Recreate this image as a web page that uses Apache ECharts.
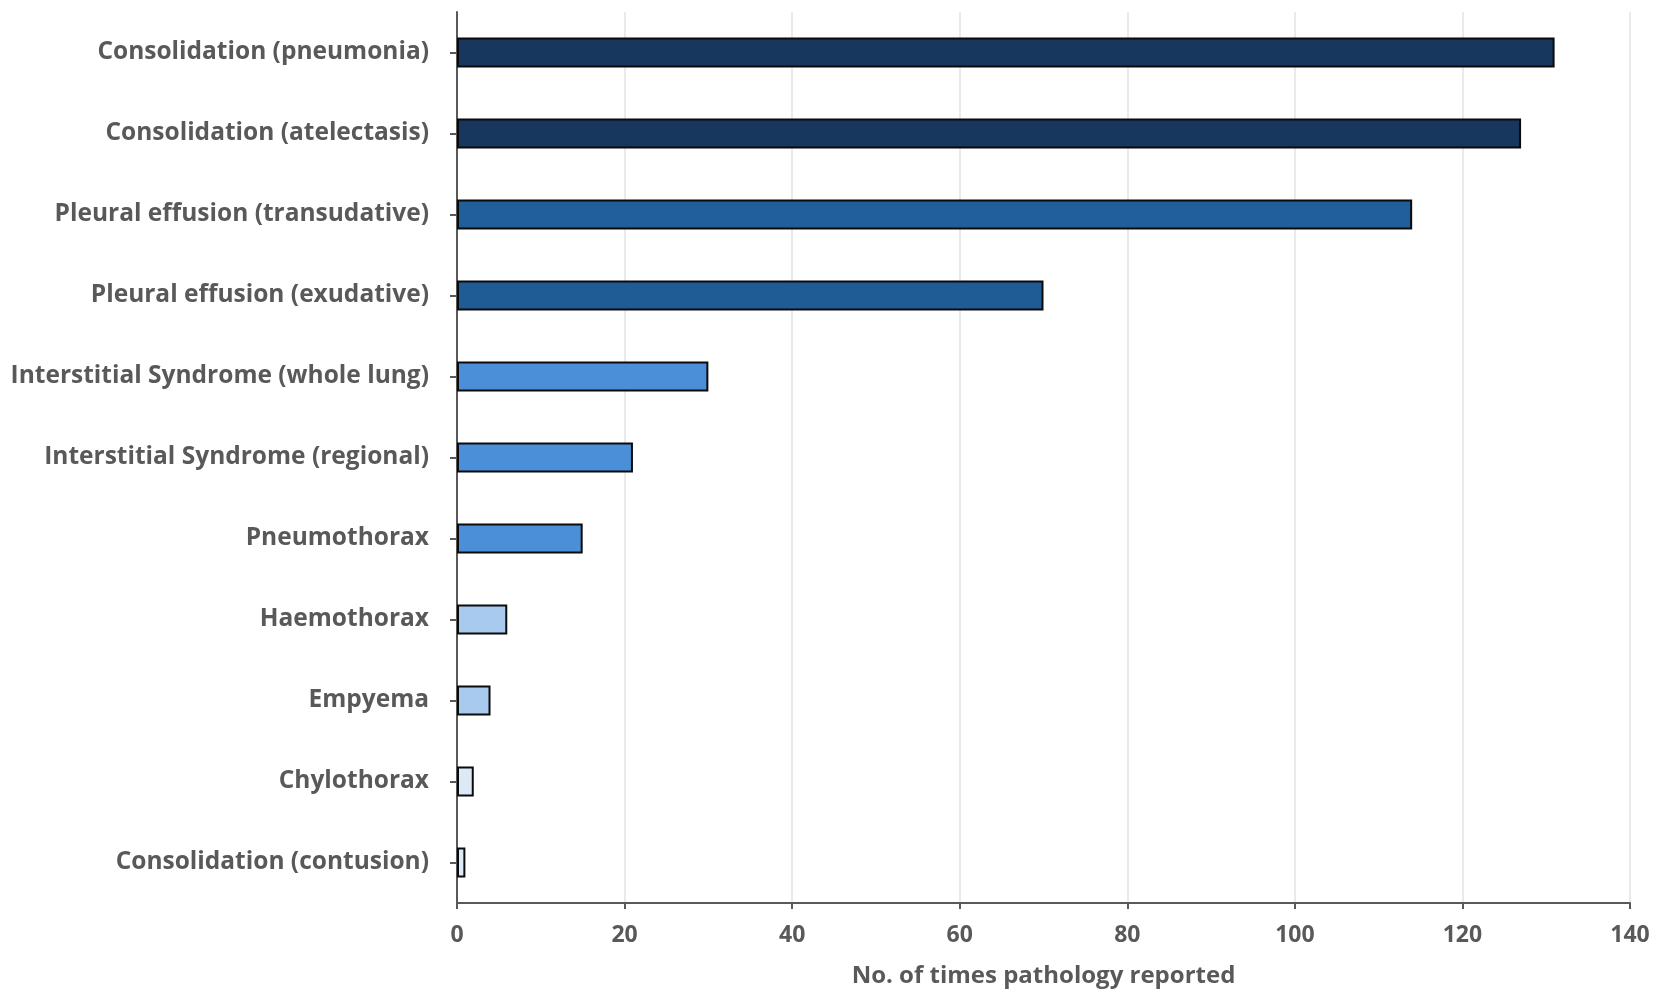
<!DOCTYPE html>
<html>
<head>
<meta charset="utf-8">
<script src="https://cdn.jsdelivr.net/npm/echarts@6/dist/echarts.min.js"></script>
<style>
  html, body { margin: 0; padding: 0; background: #ffffff; }
  #chart { width: 1659px; height: 1002px; }
</style>
</head>
<body>
<div id="chart"></div>
<script>
const categories = [
  "Consolidation (pneumonia)",
  "Consolidation (atelectasis)",
  "Pleural effusion (transudative)",
  "Pleural effusion (exudative)",
  "Interstitial Syndrome (whole lung)",
  "Interstitial Syndrome (regional)",
  "Pneumothorax",
  "Haemothorax",
  "Empyema",
  "Chylothorax",
  "Consolidation (contusion)"
];
const values = [131, 127, 114, 70, 30, 21, 15, 6, 4, 2, 1];
const barColors = [
  "#17375e", "#17375e", "#215f9a", "#1f5b95",
  "#4a8fd8", "#4a8fd8", "#4a8fd8",
  "#a7caee", "#a7caee",
  "#dceaf8", "#dceaf8"
];
const xTicks = [0, 20, 40, 60, 80, 100, 120, 140];
const xTitle = "No. of times pathology reported";

const chart = echarts.init(document.getElementById('chart'), null, { renderer: 'canvas' });
const fontFam = '"Open Sans", "Noto Sans", sans-serif';
chart.setOption({
  animation: false,
  backgroundColor: '#ffffff',
  grid: { left: 457, right: 29, top: 12, bottom: 99, containLabel: false },
  xAxis: {
    type: 'value',
    min: xTicks[0],
    max: xTicks[xTicks.length - 1],
    interval: 20,
    name: xTitle,
    nameLocation: 'middle',
    nameGap: 61,
    nameTextStyle: { color: '#595959', fontSize: 24, fontWeight: 'bold', fontFamily: fontFam },
    axisLine: { show: true, lineStyle: { color: '#595959', width: 2 } },
    axisTick: { show: true, length: 6, lineStyle: { color: '#595959', width: 2 } },
    axisLabel: { color: '#595959', fontSize: 23, fontWeight: 'bold', fontFamily: fontFam, margin: 21 },
    splitLine: { show: true, lineStyle: { color: '#e3e3e3', width: 1.5 } }
  },
  yAxis: {
    type: 'category',
    data: categories,
    inverse: true,
    axisLine: { show: true, lineStyle: { color: '#595959', width: 2 } },
    axisTick: { show: true, alignWithLabel: true, length: 7, lineStyle: { color: '#595959', width: 2 } },
    axisLabel: { color: '#595959', fontSize: 24.5, fontWeight: 'bold', fontFamily: fontFam, margin: 28 },
    splitLine: { show: false }
  },
  series: [{
    type: 'bar',
    data: values.map((v, i) => ({ value: v, itemStyle: { color: barColors[i] } })),
    barWidth: 30,
    itemStyle: { borderColor: '#0b0b0b', borderWidth: 2 }
  }]
});
</script>
</body>
</html>
